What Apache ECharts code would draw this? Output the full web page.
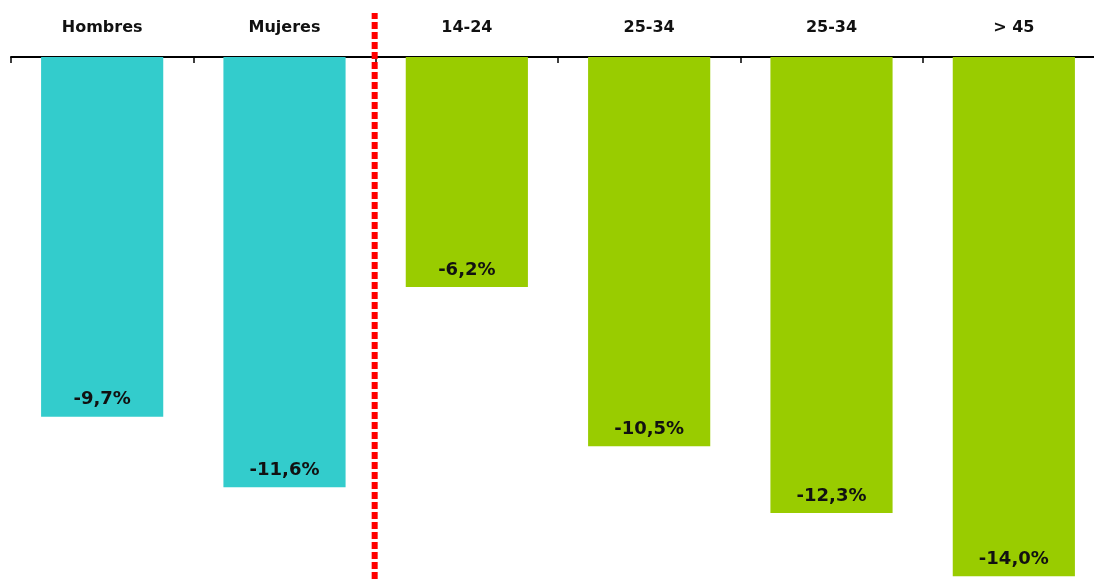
<!DOCTYPE html>
<html><head><meta charset="utf-8">
<script src="https://cdn.jsdelivr.net/npm/echarts@6/dist/echarts.min.js"></script>
<style>html,body{margin:0;padding:0;background:#fff}#c{width:1094px;height:579px}</style>
</head><body><div id="c"></div>
<script>
const categories = ['Hombres', 'Mujeres', '14-24', '25-34', '25-34', '> 45'];
const values = [-9.7, -11.6, -6.2, -10.5, -12.3, -14.0];
const groupColors = ['#33CCCC', '#33CCCC', '#99CC00', '#99CC00', '#99CC00', '#99CC00'];
const dividerAt = 2; // boundary between gender and age groups

const chart = echarts.init(document.getElementById('c'));
const font = 'Tahoma, "DejaVu Sans", Verdana, sans-serif';
chart.setOption({
  animation: false,
  grid: [
    {left: 11, width: 1094, top: 57, height: 521, outerBoundsMode: 'none', containLabel: false},
    {left: 10, width: 1094, top: 13, bottom: 0, outerBoundsMode: 'none', containLabel: false}
  ],
  xAxis: [
    {type: 'category', gridIndex: 0, position: 'top', data: categories,
     axisLine: {show: true, lineStyle: {color: '#000', width: 2}},
     axisTick: {show: true, inside: true, length: 6, lineStyle: {color: '#000', width: 1.5}},
     axisLabel: {color: '#111', fontWeight: 'bold', fontSize: 16, fontFamily: font, margin: 21}},
    {type: 'value', gridIndex: 1, min: 0, max: categories.length, show: false}
  ],
  yAxis: [
    {type: 'value', gridIndex: 0, min: -14.05, max: 0, show: false, splitLine: {show: false}},
    {type: 'value', gridIndex: 1, min: 0, max: 1, show: false}
  ],
  series: [
    {type: 'bar', xAxisIndex: 0, yAxisIndex: 0, barCategoryGap: '33%',
     data: values.map((v, i) => ({value: v, itemStyle: {color: groupColors[i]}})),
     label: {show: true, position: 'insideBottom', distance: 8, color: '#111',
       fontWeight: 'bold', fontSize: 18, fontFamily: font,
       formatter: p => p.value.toFixed(1).replace('.', ',') + '%'}},
    {type: 'line', xAxisIndex: 1, yAxisIndex: 1, symbol: 'none', silent: true,
     data: [[dividerAt, 0], [dividerAt, 1]],
     lineStyle: {color: '#FF0000', width: 6, type: [7, 3], cap: 'butt'}}
  ]
});
</script></body></html>
